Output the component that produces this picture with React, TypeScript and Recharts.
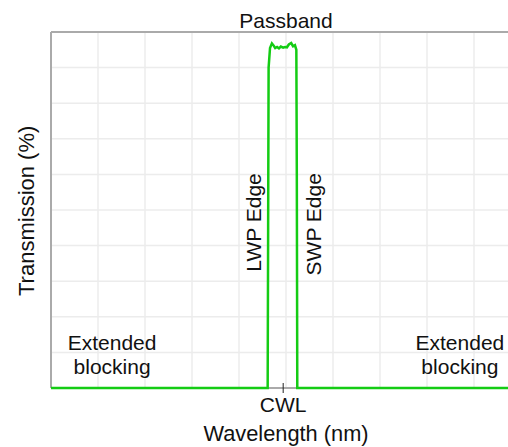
import React from 'react';
import { LineChart, Line, XAxis, YAxis, CartesianGrid, ReferenceLine, ReferenceDot, Label } from 'recharts';

// x is in relative wavelength units (0-100 across the plot), y is transmission in %
const wavelength = [0, 46.1, 46.2, 46.3, 46.6, 47.0, 47.3, 47.7, 48.1, 48.5, 48.9, 49.4, 49.8, 50.2, 50.6, 51.1, 51.5, 51.9, 52.2, 52.3, 52.4, 100];
const transmission = [0, 0, 45, 90, 95.5, 96.8, 96.3, 95.5, 95.8, 95.4, 95.9, 95.6, 95.8, 95.7, 96.5, 96.9, 96.0, 96.3, 95.0, 60, 0, 0];

const CWL = 49.4;
const gridX = [0, 10, 20, 30, 40, 50, 60, 70, 80, 90, 100];
const gridY = [10, 20, 30, 40, 50, 60, 70, 80, 90];

const data = wavelength.map((x, i) => ({ x, t: transmission[i] }));

const FONT = '"Liberation Sans", Arial, sans-serif';
const GREEN = '#14cc14';
const GRID = '#ececec';

// tick at the CWL: short mark crossing the axis plus the label under it
function CwlTick(props: any) {
  const { x, y } = props;
  return (
    <g>
      <line x1={x} x2={x} y1={y - 5} y2={y + 5} stroke="#222" strokeWidth={1} />
      <text x={x} y={y + 24} textAnchor="middle" fontSize={21} fontFamily={FONT} fill="#111">CWL</text>
    </g>
  );
}

function note(lines: string[], rotate = false) {
  return (p: any) => {
    const vb = p.viewBox || {};
    const cx = vb.x + (vb.width || 0) / 2;
    const cy = vb.y + (vb.height || 0) / 2;
    if (rotate) {
      return (
        <text x={cx} y={cy} transform={`rotate(-90 ${cx} ${cy})`} textAnchor="middle" dominantBaseline="central"
          fontSize={21} fontFamily={FONT} fill="#111">{lines[0]}</text>
      );
    }
    return (
      <text x={cx} y={cy} textAnchor="middle" fontSize={21} fontFamily={FONT} fill="#111">
        {lines.map((l, i) => <tspan key={i} x={cx} dy={i === 0 ? 0 : 24}>{l}</tspan>)}
      </text>
    );
  };
}

// y axis title, starting near the bottom of the plot and reading upwards
function YTitle(p: any) {
  const vb = p.viewBox || {};
  const cx = vb.x + vb.width / 2 + 1;
  const cy = vb.y + vb.height - 92;
  return (
    <text x={cx} y={cy} transform={`rotate(-90 ${cx} ${cy})`} textAnchor="start" dominantBaseline="central"
      fontSize={22} fontFamily={FONT} fill="#111">Transmission (%)</text>
  );
}

export default function App() {
  return (
    <div style={{ position: 'absolute', left: 0, top: 0, width: 508, height: 447, overflow: 'hidden', background: '#fff' }}>
      <LineChart width={530} height={447} data={data} margin={{ top: 32, right: 9, bottom: 0, left: 0 }}>
        <CartesianGrid stroke={GRID} strokeWidth={1.5} verticalValues={gridX} horizontal={false} />
        {gridY.map(v => (
          <ReferenceLine key={v} y={v} stroke={GRID} strokeWidth={1.5} />
        ))}
        <XAxis dataKey="x" type="number" domain={[0, 100]} ticks={[CWL]} height={59}
          stroke="#aaa" strokeWidth={2} tickLine={false} tickSize={0} tickMargin={0} tick={<CwlTick />}>
          <Label value="Wavelength (nm)" position="insideBottom" offset={6} fontSize={21.8} fontFamily={FONT} fill="#111" />
        </XAxis>
        <YAxis type="number" domain={[0, 100]} width={51} stroke="#aaa" strokeWidth={2} tick={false} tickLine={false}>
          <Label content={YTitle} />
        </YAxis>
        <ReferenceLine y={100} stroke="#aaa" strokeWidth={2}>
          <Label value="Passband" position="top" offset={4} fontSize={21} fontFamily={FONT} fill="#111" />
        </ReferenceLine>
        <ReferenceDot x={13} y={10.7} r={1} fill="none" stroke="none" label={note(['Extended', 'blocking'])} />
        <ReferenceDot x={87} y={10.7} r={1} fill="none" stroke="none" label={note(['Extended', 'blocking'])} />
        <ReferenceDot x={43.0} y={46.5} r={1} fill="none" stroke="none" label={note(['LWP Edge'], true)} />
        <ReferenceDot x={55.8} y={46.0} r={1} fill="none" stroke="none" label={note(['SWP Edge'], true)} />
        <Line type="linear" dataKey="t" stroke={GREEN} strokeWidth={2.5} dot={false} isAnimationActive={false} zIndex={600} />
      </LineChart>
    </div>
  );
}
